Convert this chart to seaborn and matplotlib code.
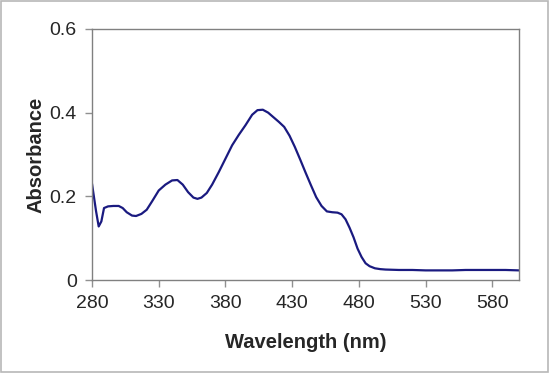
# absorbance spectrum, recreated with seaborn
import pandas as pd
import matplotlib
matplotlib.use("Agg")
import matplotlib.pyplot as plt
import seaborn as sns
from matplotlib.patches import Rectangle

# values
wavelength = [280, 283, 285, 287, 289, 292, 296, 300, 303, 306, 310, 313, 317, 321,
              325, 330, 335, 340, 344, 348, 352, 356, 359, 362, 366, 370, 375, 380,
              385, 390, 395, 400, 404, 408, 412, 416, 420, 424, 428, 432, 436, 440,
              444, 448, 452, 456, 460, 464, 467, 470, 473, 476, 479, 482, 485, 488,
              492, 496, 500, 510, 520, 530, 540, 550, 560, 570, 580, 590, 600]
absorbance = [0.230, 0.165, 0.128, 0.140, 0.172, 0.176, 0.177, 0.177, 0.172, 0.162,
              0.154, 0.153, 0.158, 0.168, 0.188, 0.214, 0.228, 0.238, 0.239, 0.228,
              0.210, 0.197, 0.194, 0.197, 0.208, 0.228, 0.258, 0.290, 0.322, 0.347,
              0.370, 0.395, 0.406, 0.407, 0.400, 0.389, 0.378, 0.366, 0.345, 0.318,
              0.288, 0.257, 0.227, 0.198, 0.177, 0.164, 0.162, 0.161, 0.157, 0.145,
              0.125, 0.102, 0.075, 0.055, 0.040, 0.033, 0.028, 0.026, 0.025, 0.024,
              0.024, 0.023, 0.023, 0.023, 0.024, 0.024, 0.024, 0.024, 0.023]

x_ticks = [280, 330, 380, 430, 480, 530, 580]
y_ticks = [0, 0.2, 0.4, 0.6]
y_tick_labels = ["0", "0.2", "0.4", "0.6"]

df = pd.DataFrame({"Wavelength": wavelength, "Absorbance": absorbance})

sns.set_style("white")
plt.rcParams["font.family"] = ["Liberation Sans", "DejaVu Sans"]

fig = plt.figure(figsize=(5.5, 3.73), dpi=100)
ax = fig.add_axes([0.1673, 0.2493, 0.7764, 0.673])

sns.lineplot(data=df, x="Wavelength", y="Absorbance", ax=ax,
             color="#1a1a80", linewidth=1.6, sort=False)

ax.set_xlim(280, 600)
ax.set_ylim(0, 0.6)
ax.set_xticks(x_ticks)
ax.set_yticks(y_ticks)
ax.set_yticklabels(y_tick_labels)
ax.tick_params(axis="both", which="major", direction="out", length=5, width=1,
               color="#909090", labelsize=14, pad=6, left=True, bottom=True)

for side in ["left", "bottom", "top", "right"]:
    ax.spines[side].set_visible(True)
    ax.spines[side].set_color("#808080")
    ax.spines[side].set_linewidth(1)

ax.set_xlabel("Wavelength (nm)", fontsize=14.5, fontweight="bold", labelpad=15)
ax.set_ylabel("Absorbance", fontsize=14.5, fontweight="bold", labelpad=3)

# thin gray frame around the whole picture
fig.patches.append(Rectangle((0.002, 0.003), 0.995, 0.993, transform=fig.transFigure,
                             fill=False, edgecolor="#b8b8b8", linewidth=1.2))

fig.savefig("out.png", dpi=100)
